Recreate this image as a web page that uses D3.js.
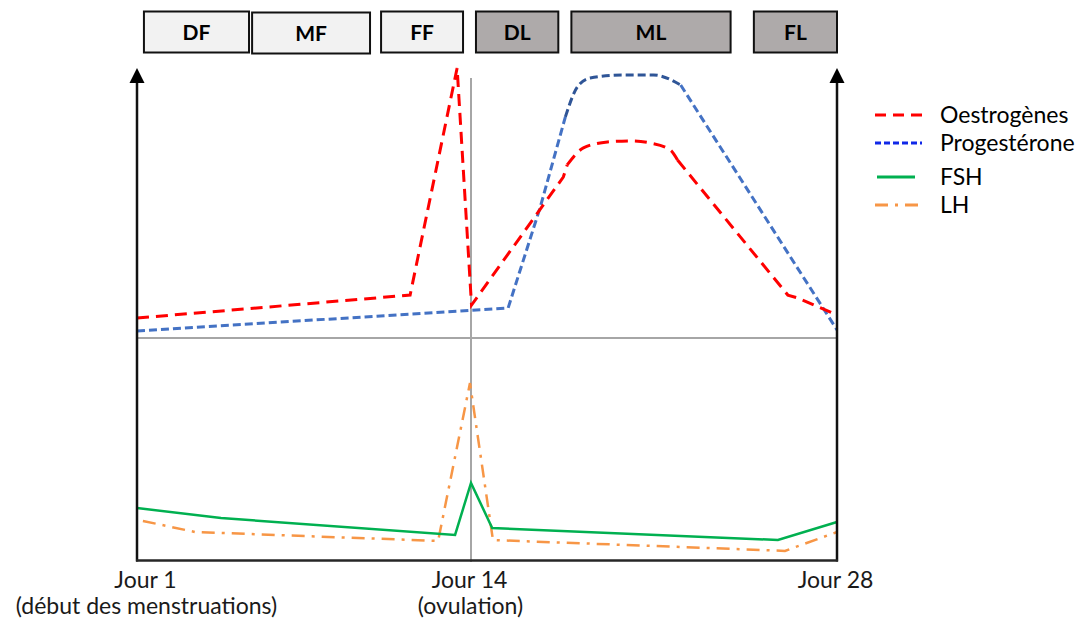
<!DOCTYPE html>
<html>
<head>
<meta charset="utf-8">
<script src="https://cdn.jsdelivr.net/npm/d3@7"></script>
<style>
  html, body { margin: 0; padding: 0; background: #fff; }
  svg { display: block; }
  text { font-family: Lato, "Open Sans", sans-serif; }
</style>
</head>
<body>
<svg id="chart" width="1083" height="624"></svg>
<script>
// ---------- DATA ----------
const phaseNames = ["DF", "MF", "FF", "DL", "ML", "FL"];
const phaseStart = [1.27, 5.48, 10.5, 14.19, 17.84, 24.82];
const phaseEnd   = [5.36, 10.07, 13.69, 17.34, 23.93, 28.0];
const phaseDark  = [false, false, false, true, true, true];

// Top panel (ovarian hormones), relative level 0-100
const oestroDays = [1, 11.63, 13.46, 14.02, 17.53, 17.68, 18.3, 19.22, 20.1, 20.87, 21.63, 21.9, 26.12, 26.5, 28];
const oestroVals = [7.4, 15.9, 100, 12.2, 59.6, 64.1, 70.4, 72.6, 73.0, 72.2, 69.6, 65.9, 15.9, 14.8, 8.5];

const progDays = [1, 15.42, 16.65, 17.61, 18.07, 18.56, 19.83, 20.98, 22.02, 28];
const progVals = [2.6, 11.1, 48.5, 81.9, 93.0, 96.3, 97.4, 97.4, 93.7, 3.0];

// Bottom panel (pituitary hormones), relative level 0-100
const fshDays = [1, 4.27, 13.38, 14, 14.81, 25.74, 28];
const fshVals = [23.4, 18.9, 11.3, 34.7, 14.4, 9.0, 17.1];

const lhDays = [1.23, 3.26, 12.72, 13.96, 14.84, 26.01, 28];
const lhVals = [17.6, 12.6, 8.6, 79.7, 9.0, 4.1, 12.6];

// Axis ticks
const tickDays = [1, 14, 28];
const tickLabels = ["Jour 1", "Jour 14", "Jour 28"];
const tickSubLabels = ["(début des menstruations)", "(ovulation)", ""];

// Legend
const legendNames = ["Oestrogènes", "Progestérone", "FSH", "LH"];

// ---------- LAYOUT ----------
const svg = d3.select("#chart");
const x = d3.scaleLinear().domain([1, 14, 28]).range([137, 471, 837]);
const yTop = d3.scaleLinear().domain([0, 100]).range([338, 68]);
const yBot = d3.scaleLinear().domain([0, 100]).range([560, 338]);

// Phase boxes
const boxTop = 11.5, boxH = 41;
const boxes = svg.append("g");
phaseNames.forEach((n, i) => {
  const x0 = x(phaseStart[i]), x1 = x(phaseEnd[i]);
  const top = boxTop + (i === 1 ? 1 : 0);
  boxes.append("rect")
    .attr("x", x0).attr("y", top)
    .attr("width", x1 - x0).attr("height", boxH)
    .attr("fill", phaseDark[i] ? "#AEAAAA" : "#F2F2F2")
    .attr("stroke", "#111").attr("stroke-width", 2);
  boxes.append("text")
    .attr("x", (x0 + x1) / 2).attr("y", top + boxH / 2 + 7.5)
    .attr("text-anchor", "middle")
    .attr("font-size", 21).attr("font-weight", "bold").attr("fill", "#000")
    .text(n);
});

// Grey reference lines
svg.append("line")
  .attr("x1", x(1)).attr("x2", x(28)).attr("y1", yTop(0)).attr("y2", yTop(0))
  .attr("stroke", "#A6A6A6").attr("stroke-width", 2);
svg.append("line")
  .attr("x1", x(14)).attr("x2", x(14)).attr("y1", 78).attr("y2", 562)
  .attr("stroke", "#A6A6A6").attr("stroke-width", 2);

// Curves
const lineTop = d3.line().x(d => x(d[0])).y(d => yTop(d[1]));
const lineTopSmooth = d3.line().x(d => x(d[0])).y(d => yTop(d[1])).curve(d3.curveMonotoneX);
const lineBot = d3.line().x(d => x(d[0])).y(d => yBot(d[1]));

const oestro = oestroDays.map((d, i) => [d, oestroVals[i]]);
const prog = progDays.map((d, i) => [d, progVals[i]]);
const fsh = fshDays.map((d, i) => [d, fshVals[i]]);
const lh = lhDays.map((d, i) => [d, lhVals[i]]);

// Progesterone: light / dark / light segments
svg.append("path").attr("d", lineTop(prog.slice(0, 4)))
  .attr("fill", "none").attr("stroke", "#4472C4").attr("stroke-width", 3)
  .attr("stroke-dasharray", "8,4");
svg.append("path").attr("d", lineTopSmooth(prog.slice(3, 9)))
  .attr("fill", "none").attr("stroke", "#2F5597").attr("stroke-width", 3)
  .attr("stroke-dasharray", "8,4");
svg.append("path").attr("d", lineTop(prog.slice(8)))
  .attr("fill", "none").attr("stroke", "#4472C4").attr("stroke-width", 3)
  .attr("stroke-dasharray", "8,4");

// Oestrogens
svg.append("path").attr("d", lineTop(oestro.slice(0, 6)))
  .attr("fill", "none").attr("stroke", "#FF0000").attr("stroke-width", 3)
  .attr("stroke-dasharray", "12,7");
svg.append("path").attr("d", lineTopSmooth(oestro.slice(5, 12)))
  .attr("fill", "none").attr("stroke", "#FF0000").attr("stroke-width", 3)
  .attr("stroke-dasharray", "12,7");
svg.append("path").attr("d", lineTop(oestro.slice(11)))
  .attr("fill", "none").attr("stroke", "#FF0000").attr("stroke-width", 3)
  .attr("stroke-dasharray", "12,7");

// LH
svg.append("path").attr("d", lineBot(lh))
  .attr("fill", "none").attr("stroke", "#F79646").attr("stroke-width", 2.5)
  .attr("stroke-dasharray", "13,7,3,7");
// FSH
svg.append("path").attr("d", lineBot(fsh))
  .attr("fill", "none").attr("stroke", "#00B050").attr("stroke-width", 2.5);

// Axes frame
const axisColor = "#111";
[x(1), x(28)].forEach(ax => {
  svg.append("line").attr("x1", ax).attr("x2", ax).attr("y1", 80).attr("y2", 561.5)
    .attr("stroke", axisColor).attr("stroke-width", 2.5);
  svg.append("path")
    .attr("d", `M${ax},68 L${ax - 7.5},83 L${ax + 7.5},83 Z`)
    .attr("fill", "#000");
});

// Bottom axis via d3.axisBottom
const xAxis = d3.axisBottom(x).tickValues(tickDays).tickSize(0).tickPadding(0)
  .tickFormat((d, i) => tickLabels[i]);
const gx = svg.append("g").attr("transform", `translate(0,${yBot(0)})`).call(xAxis);
gx.select(".domain").attr("stroke", "#262626").attr("stroke-width", 2.5)
  .attr("d", `M${x(1) - 1},0.5H${x(28) + 1}`);
const labelDx = [8, -2, -2];
gx.selectAll(".tick text")
  .attr("y", 28).attr("dy", 0)
  .attr("font-size", 23).attr("fill", "#1a1a1a")
  .attr("font-family", "Lato, 'Open Sans', sans-serif")
  .attr("dx", (d, i) => labelDx[i]);
gx.selectAll(".tick").each(function(d, i) {
  if (tickSubLabels[i]) {
    d3.select(this).append("text")
      .attr("x", labelDx[i] + 1).attr("y", 54)
      .attr("text-anchor", "middle")
      .attr("font-size", 23).attr("fill", "#1a1a1a")
      .attr("font-family", "Lato, 'Open Sans', sans-serif")
      .text(tickSubLabels[i]);
  }
});

// Legend
const legendY = [115, 143, 177, 205];
const legendStroke = ["#FF0000", "#1028E8", "#00B050", "#F79646"];
const legendDash = ["11,7", "6,3", null, "13,7,3,7"];
const legendWidth = [3, 3, 3, 3];
const legend = svg.append("g");
legendNames.forEach((n, i) => {
  legend.append("line")
    .attr("x1", i === 2 ? 877 : 875).attr("x2", i === 2 ? 915 : 922)
    .attr("y1", legendY[i]).attr("y2", legendY[i])
    .attr("stroke", legendStroke[i]).attr("stroke-width", legendWidth[i])
    .attr("stroke-dasharray", legendDash[i]);
  legend.append("text")
    .attr("x", 940).attr("y", legendY[i] + 7.5)
    .attr("font-size", 23).attr("fill", "#000")
    .text(n);
});
</script>
</body>
</html>
